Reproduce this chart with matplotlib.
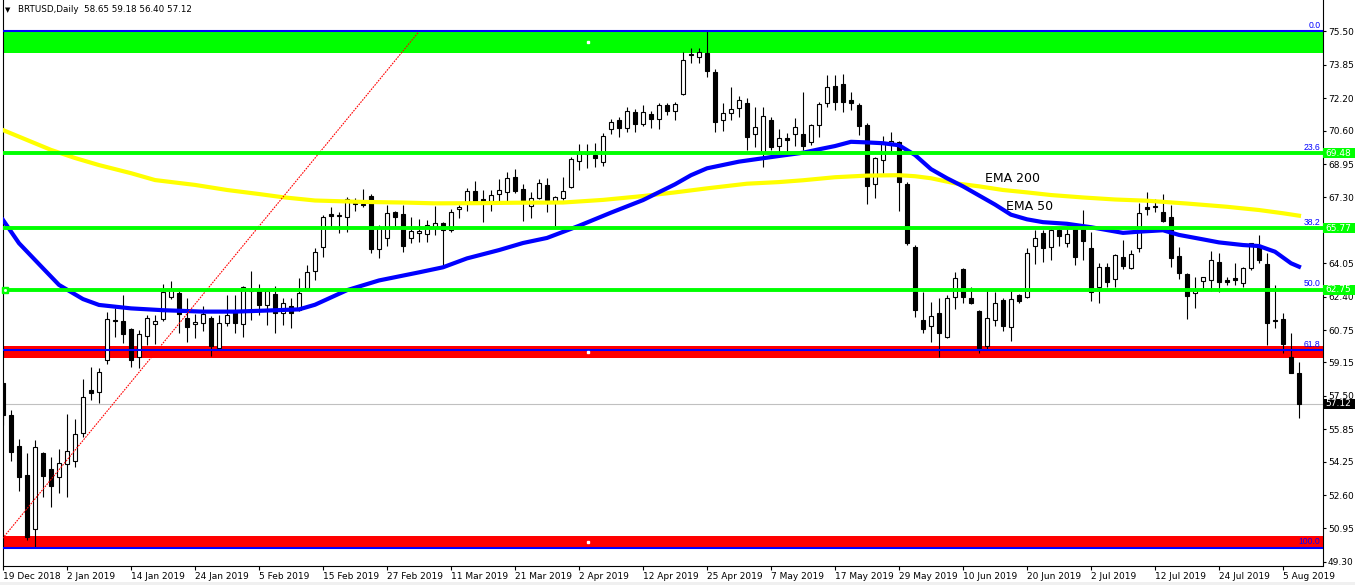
import matplotlib
matplotlib.use("Agg")
import matplotlib.pyplot as plt
import matplotlib.transforms as mtransforms
from matplotlib.patches import Rectangle

plt.rcParams['font.family'] = ['DejaVu Sans']

# Daily BRTUSD candles, 19 Dec 2018 .. 7 Aug 2019
opens = [58.12, 56.55, 55.02, 53.59, 50.90, 54.66, 53.87, 53.50, 54.13, 54.29,
         55.65, 57.79, 57.67, 59.27, 61.25, 61.20, 60.80, 59.40, 60.46, 61.03,
         61.28, 62.37, 62.57, 61.36, 61.03, 61.12, 61.33, 59.85, 61.08, 61.71,
         61.03, 62.80, 62.66, 61.99, 62.53, 61.61, 61.94, 61.74, 62.81, 63.68,
         64.87, 66.47, 66.40, 66.32, 67.04, 66.99, 67.39, 64.74, 65.28, 66.57,
         66.47, 65.28, 65.53, 65.48, 65.86, 66.05, 65.69, 66.72, 67.09, 67.62,
         67.21, 67.14, 67.46, 67.59, 68.33, 67.70, 66.88, 67.29, 67.92, 67.14,
         67.26, 67.83, 69.12, 69.45, 69.40, 69.07, 70.67, 71.13, 70.72, 71.51,
         70.91, 71.42, 71.16, 71.87, 71.59, 72.40, 74.35, 74.22, 74.42, 73.48,
         71.12, 71.46, 71.70, 71.95, 70.42, 69.51, 71.13, 69.84, 70.25, 70.42,
         70.44, 70.03, 70.88, 71.98, 72.81, 72.91, 72.12, 71.87, 70.88, 67.95,
         69.15, 69.98, 70.06, 67.97, 64.84, 61.25, 60.97, 61.58, 60.42, 62.40,
         63.77, 62.32, 61.71, 59.96, 61.23, 62.23, 60.92, 62.48, 62.40, 64.90,
         65.53, 64.84, 65.69, 65.07, 65.73, 65.73, 64.79, 62.89, 63.85, 63.26,
         64.34, 63.80, 64.79, 66.85, 66.88, 66.60, 66.32, 64.41, 63.50, 62.56,
         63.19, 63.22, 64.13, 63.22, 63.31, 63.06, 63.80, 64.95, 64.01, 61.25,
         61.28, 59.43, 58.65]
highs = [58.15, 56.80, 55.37, 54.66, 55.32, 54.70, 54.49, 54.88, 56.60, 56.35,
         58.32, 58.91, 58.86, 61.66, 61.82, 62.48, 60.85, 60.75, 61.49, 61.49,
         63.03, 63.17, 62.75, 62.32, 61.54, 61.94, 61.45, 61.49, 62.48, 62.48,
         62.93, 63.67, 63.03, 62.70, 62.93, 62.32, 62.32, 63.31, 63.96, 64.79,
         66.43, 66.83, 66.60, 67.34, 67.29, 67.70, 67.46, 65.95, 66.93, 66.65,
         66.93, 66.35, 66.22, 66.19, 66.88, 66.10, 66.72, 66.93, 67.78, 68.11,
         67.67, 67.67, 68.20, 68.57, 68.71, 67.96, 67.59, 68.20, 68.25, 67.35,
         68.30, 69.32, 69.94, 69.94, 69.98, 70.47, 71.18, 71.29, 71.75, 71.66,
         71.87, 71.59, 71.95, 71.95, 72.03, 74.47, 74.67, 74.67, 75.50, 73.65,
         71.95, 72.74, 72.33, 72.20, 71.75, 71.75, 71.29, 70.67, 70.50, 71.21,
         72.53, 70.95, 72.03, 73.35, 73.35, 73.40, 72.53, 71.98, 70.96, 69.30,
         70.34, 70.55, 70.10, 68.08, 64.95, 62.64, 62.12, 62.32, 62.48, 63.60,
         63.80, 62.89, 61.75, 62.73, 62.61, 62.32, 62.73, 62.55, 64.79, 65.69,
         65.69, 65.86, 65.86, 65.73, 65.86, 66.68, 65.61, 64.05, 64.05, 64.51,
         65.20, 64.71, 67.04, 67.59, 67.21, 67.47, 66.93, 64.87, 63.55, 63.36,
         63.39, 64.67, 64.57, 63.39, 64.05, 63.85, 65.05, 65.45, 64.54, 62.98,
         61.61, 60.59, 59.18]
lows = [56.05, 54.29, 52.81, 50.38, 50.00, 52.52, 52.02, 52.68, 52.52, 53.97,
        55.48, 57.29, 57.13, 59.07, 60.42, 60.10, 58.91, 58.89, 59.99, 60.04,
        61.20, 62.27, 60.59, 60.17, 60.37, 60.72, 59.48, 59.80, 60.96, 60.62,
        60.42, 61.25, 61.49, 61.00, 60.59, 61.00, 60.87, 61.70, 62.75, 63.22,
        64.37, 65.78, 65.56, 65.61, 66.63, 66.85, 64.54, 64.29, 64.92, 65.86,
        64.62, 65.07, 65.12, 65.12, 65.45, 63.88, 65.61, 66.27, 66.63, 67.00,
        66.10, 66.63, 67.01, 67.09, 67.51, 66.15, 66.30, 67.20, 66.60, 65.91,
        67.17, 67.75, 68.66, 68.74, 68.82, 68.87, 70.42, 70.27, 70.55, 70.55,
        70.85, 70.75, 70.70, 71.37, 71.13, 72.35, 73.92, 73.96, 73.27, 70.55,
        70.58, 71.13, 71.26, 69.65, 69.81, 68.82, 69.65, 69.56, 69.56, 69.84,
        69.65, 69.90, 70.30, 71.78, 71.62, 71.54, 71.61, 70.39, 66.98, 67.29,
        68.49, 69.60, 66.65, 64.95, 61.38, 60.62, 60.17, 59.43, 60.35, 61.77,
        62.07, 62.02, 59.60, 59.76, 60.95, 60.72, 60.23, 62.10, 62.35, 64.01,
        64.13, 64.21, 64.90, 64.87, 63.96, 64.21, 62.20, 62.07, 62.89, 62.89,
        63.75, 63.75, 64.62, 66.43, 66.60, 66.07, 63.85, 63.26, 61.28, 61.82,
        62.73, 62.70, 62.61, 62.98, 62.98, 62.89, 63.72, 64.05, 60.01, 60.84,
        59.63, 58.61, 56.40]
closes = [56.55, 54.74, 53.50, 50.51, 54.96, 53.55, 53.06, 54.17, 54.79, 55.60,
          57.43, 57.62, 58.69, 61.28, 61.18, 60.54, 59.27, 60.54, 61.33, 61.18,
          62.61, 62.80, 61.53, 60.92, 61.13, 61.53, 59.97, 61.08, 61.49, 61.12,
          62.86, 62.70, 61.99, 62.66, 61.61, 62.07, 61.58, 62.56, 63.63, 64.59,
          66.32, 66.40, 66.42, 67.21, 66.96, 66.91, 64.77, 65.86, 66.52, 66.35,
          64.92, 65.64, 65.64, 65.94, 66.05, 65.69, 66.57, 66.81, 67.63, 67.12,
          67.09, 67.42, 67.67, 68.25, 67.63, 67.09, 67.26, 68.00, 67.17, 67.31,
          67.62, 69.19, 69.48, 69.50, 69.24, 70.35, 71.04, 70.75, 71.57, 70.91,
          71.51, 71.19, 71.87, 71.59, 71.90, 74.09, 74.38, 74.47, 73.56, 71.04,
          71.49, 71.66, 72.12, 70.30, 70.77, 71.34, 69.78, 70.25, 70.16, 70.77,
          69.84, 70.88, 71.90, 72.74, 72.03, 72.03, 71.98, 70.83, 67.88, 69.23,
          70.06, 70.09, 68.08, 65.07, 61.74, 60.79, 61.46, 60.59, 62.32, 63.31,
          62.37, 62.07, 59.85, 61.33, 62.07, 60.97, 62.27, 62.20, 64.54, 65.28,
          64.79, 65.69, 65.40, 65.50, 64.38, 65.17, 62.65, 63.88, 63.14, 64.46,
          63.91, 64.49, 66.55, 66.71, 66.81, 66.15, 64.29, 63.55, 62.45, 62.73,
          63.36, 64.21, 63.14, 63.11, 63.22, 63.80, 65.03, 64.21, 61.08, 61.20,
          60.06, 58.65, 57.12]

# EMA curves sampled at bar indices
ema50_bars = [0, 2, 5, 7, 10, 12, 16, 20, 25, 29, 32, 37, 39, 43, 47, 52, 55, 58,
              62, 65, 68, 72, 76, 80, 84, 86, 88, 92, 97, 100, 102, 104, 106, 108,
              110, 112, 114, 116, 118, 120, 122, 124, 126, 128, 130, 133, 136, 140,
              142, 145, 147, 150, 152, 155, 157, 159, 161, 162]
ema50_vals = [66.19, 65.04, 63.80, 62.98, 62.28, 61.99, 61.82, 61.73, 61.66, 61.66,
              61.70, 61.77, 62.00, 62.72, 63.20, 63.60, 63.85, 64.29, 64.70, 65.05,
              65.30, 65.90, 66.55, 67.17, 67.95, 68.40, 68.74, 69.07, 69.35, 69.51,
              69.68, 69.84, 70.05, 70.02, 69.98, 69.88, 69.40, 68.70, 68.25, 67.85,
              67.40, 66.95, 66.45, 66.22, 66.08, 66.00, 65.83, 65.55, 65.61, 65.68,
              65.45, 65.23, 65.08, 64.95, 64.90, 64.62, 64.05, 63.88]
ema200_bars = [0, 3, 6, 9, 12, 16, 19, 24, 28, 32, 35, 39, 45, 50, 54, 60, 64, 70,
               75, 80, 84, 88, 93, 97, 100, 104, 108, 112, 114, 116, 119, 122, 125,
               128, 131, 135, 139, 143, 148, 153, 157, 160, 162]
ema200_vals = [70.63, 70.14, 69.65, 69.25, 68.90, 68.50, 68.16, 67.92, 67.67, 67.47,
               67.31, 67.15, 67.08, 67.05, 67.01, 67.02, 67.04, 67.05, 67.18, 67.37,
               67.55, 67.75, 67.98, 68.06, 68.15, 68.30, 68.38, 68.40, 68.35, 68.25,
               68.00, 67.85, 67.67, 67.55, 67.42, 67.30, 67.20, 67.14, 67.00, 66.84,
               66.68, 66.52, 66.40]

date_labels = ["19 Dec 2018", "2 Jan 2019", "14 Jan 2019", "24 Jan 2019", "5 Feb 2019",
               "15 Feb 2019", "27 Feb 2019", "11 Mar 2019", "21 Mar 2019", "2 Apr 2019",
               "12 Apr 2019", "25 Apr 2019", "7 May 2019", "17 May 2019", "29 May 2019",
               "10 Jun 2019", "20 Jun 2019", "2 Jul 2019", "12 Jul 2019", "24 Jul 2019",
               "5 Aug 2019"]
price_ticks = [75.50, 73.85, 72.20, 70.60, 68.95, 67.30, 65.70, 64.05, 62.40, 60.75,
               59.15, 57.50, 55.85, 54.25, 52.60, 50.95, 49.30]

# Fibonacci retracement levels
fib_names = ["0.0", "23.6", "38.2", "50.0", "61.8", "100.0"]
fib_prices = [75.50, 69.48, 65.77, 62.75, 59.74, 50.00]
boxed_levels = [69.48, 65.77, 62.75]
last_price = 57.12

# shaded zones (bottom, top)
green_zone = (74.42, 75.46)
red_zones = [(59.37, 59.96), (50.03, 50.57)]

W, H = 1355, 585
fig = plt.figure(figsize=(W / 100, H / 100), dpi=100)
ax = fig.add_axes([2.5 / W, 19.5 / H, 1320 / W, 565.5 / H])
ax.set_xlim(-0.0625, 164.94)
ax.set_ylim(49.117, 77.056)

# zones
ax.axhspan(*green_zone, color='#00ff00', lw=0, zorder=1)
for lo, hi in red_zones:
    ax.axhspan(lo, hi, color='#ff0000', lw=0, zorder=1)
ax.axhline(last_price, color='#c0c0c0', lw=0.8, zorder=1.5)

# candles
for i, (o, h, l, c) in enumerate(zip(opens, highs, lows, closes)):
    ax.vlines(i, l, h, color='black', lw=0.8, zorder=2)
    body = max(abs(c - o), 0.03)
    ax.bar(i, body, bottom=min(o, c), width=0.6,
           color='white' if c >= o else 'black', edgecolor='black', lw=0.8, zorder=3)

# moving averages
ax.plot(ema200_bars, ema200_vals, color='#ffff00', lw=3, zorder=4)
ax.plot(ema50_bars, ema50_vals, color='#0000ff', lw=3, zorder=4)

# fib trend line
ax.plot([-1, 52], [fib_prices[-1], fib_prices[0]], color='red', lw=0.8,
        ls=(0, (1.5, 1)), zorder=4)

# fib levels
for name, p in zip(fib_names, fib_prices):
    if p in boxed_levels:
        ax.axhline(p, color='#00ff00', lw=2.8, zorder=5)
    else:
        ax.axhline(p, color='#0000ff', lw=1.5, zorder=5)
    ax.text(164.7, p + 0.08, name, ha='right', va='bottom', color='#0000ff',
            fontsize=6.2, family='Liberation Sans', zorder=6)

# handle markers
ax.plot([73.1, 73.1, 73.1], [75.0, 59.68, 50.3], 's', ms=2, color='white', zorder=6)
ax.plot(0.2, fib_prices[3], 's', ms=4, color='#00ff00', zorder=6, clip_on=False)
ax.plot(0.2, fib_prices[3], 's', ms=1, color='white', zorder=7, clip_on=False)

ax.text(122.75, 68.26, "EMA 200", fontsize=9, va='center', ha='left', zorder=6)
ax.text(125.4, 66.83, "EMA 50", fontsize=9, va='center', ha='left', zorder=6)

# axes styling
for side in ['left', 'right', 'bottom']:
    ax.spines[side].set_linewidth(0.8)
ax.spines['top'].set_visible(False)
ax.yaxis.tick_right()
ax.set_yticks(price_ticks)
# the 65.70 label sits under the 65.77 level box
ax.set_yticklabels(["" if v == 65.70 else "%.2f" % v for v in price_ticks])
ax.set_xticks(range(0, 8 * len(date_labels), 8))
ax.set_xticklabels(date_labels, ha='left')
ax.tick_params(axis='y', direction='out', length=2.5, width=0.8, pad=1.5, labelsize=6.5)
ax.tick_params(axis='x', direction='out', length=3, width=0.8, pad=2, labelsize=6.5)

# price boxes on the right axis
trans = mtransforms.blended_transform_factory(ax.transAxes, ax.transData)
box_h = 10 / 20.24
for p in boxed_levels:
    ax.add_patch(Rectangle((1.0006, p - box_h / 2), 0.025, box_h, transform=trans,
                           facecolor='#00ff00', edgecolor='none', clip_on=False, zorder=8))
    ax.text(1.002, p, "%.2f" % p, transform=trans, color='white', fontsize=6.5,
            va='center', ha='left', clip_on=False, zorder=9)
ax.add_patch(Rectangle((1.0006, last_price - box_h / 2), 0.025, box_h, transform=trans,
                       facecolor='black', edgecolor='none', clip_on=False, zorder=8))
ax.text(1.002, last_price, "%.2f" % last_price, transform=trans, color='white',
        fontsize=6.5, va='center', ha='left', clip_on=False, zorder=9)

# header
fig.text(5 / W, 1 - 10 / H, "\u25bc", fontsize=5, va='center', ha='left')
fig.text(18 / W, 1 - 10 / H, "BRTUSD,Daily  58.65 59.18 56.40 57.12",
         fontsize=6.3, va='center', ha='left')

fig.patches.append(Rectangle((0, 0), 1, 3 / H, transform=fig.transFigure,
                             facecolor='#f0f0f0', edgecolor='none'))

fig.savefig("out.png", dpi=100)
